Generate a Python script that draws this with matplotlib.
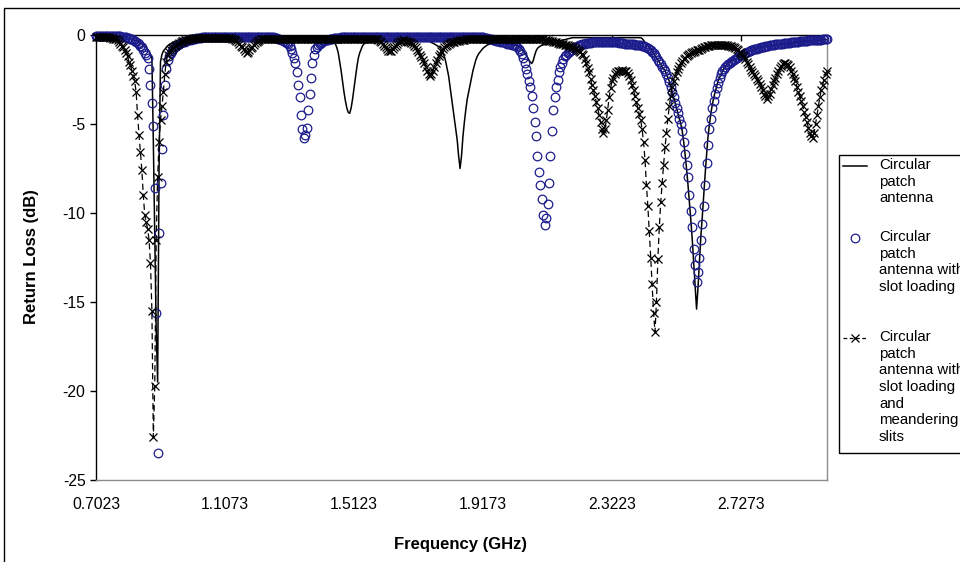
import numpy as np
import matplotlib.pyplot as plt
from matplotlib.lines import Line2D
from matplotlib.patches import Rectangle

plt.rcParams['font.family'] = ['Liberation Sans', 'DejaVu Sans']
plt.rcParams['axes.unicode_minus'] = False

# frequency sweep (GHz)
f_start = 0.7023
f_step = 0.0045

tick_freqs = [0.7023, 1.1073, 1.5123, 1.9173, 2.3223, 2.7273]
tick_labels = ['0.7023', '1.1073', '1.5123', '1.9173', '2.3223', '2.7273']
db_ticks = [0, -5, -10, -15, -20, -25]

names = ['Circular\npatch\nantenna',
         'Circular\npatch\nantenna with\nslot loading',
         'Circular\npatch\nantenna with\nslot loading\nand\nmeandering\nslits']

# return loss (dB), one value per sweep point
rl_patch = [
    -0.1, -0.1, -0.1, -0.1, -0.1, -0.1, -0.1, -0.1, -0.1, -0.1,
    -0.1, -0.1, -0.1, -0.1, -0.1, -0.1, -0.1, -0.1, -0.1, -0.1,
    -0.15, -0.15, -0.2, -0.2, -0.2, -0.25, -0.25, -0.3, -0.3, -0.35,
    -0.4, -0.45, -0.5, -0.55, -0.6, -0.7, -0.8, -0.9, -1.1, -1.3,
    -6.0, -11.4, -16.6, -19.5, -7.5, -1.5, -1.1, -0.9, -0.8, -0.7,
    -0.6, -0.55, -0.5, -0.45, -0.4, -0.38, -0.35, -0.33, -0.3, -0.28,
    -0.26, -0.25, -0.24, -0.23, -0.22, -0.2, -0.2, -0.18, -0.17, -0.16,
    -0.15, -0.15, -0.15, -0.15, -0.15, -0.15, -0.15, -0.15, -0.15, -0.15,
    -0.15, -0.15, -0.15, -0.15, -0.15, -0.15, -0.15, -0.15, -0.15, -0.15,
    -0.15, -0.15, -0.15, -0.15, -0.15, -0.15, -0.15, -0.15, -0.15, -0.15,
    -0.12, -0.12, -0.12, -0.12, -0.12, -0.12, -0.12, -0.12, -0.12, -0.12,
    -0.12, -0.12, -0.12, -0.12, -0.12, -0.12, -0.12, -0.12, -0.12, -0.12,
    -0.12, -0.12, -0.12, -0.12, -0.12, -0.12, -0.12, -0.12, -0.12, -0.12,
    -0.12, -0.12, -0.12, -0.12, -0.12, -0.12, -0.12, -0.12, -0.12, -0.12,
    -0.12, -0.12, -0.12, -0.12, -0.12, -0.12, -0.12, -0.12, -0.12, -0.12,
    -0.12, -0.12, -0.12, -0.12, -0.12, -0.12, -0.12, -0.12, -0.12, -0.12,
    -0.15, -0.2, -0.25, -0.3, -0.35, -0.4, -0.45, -0.5, -0.7, -1.0,
    -1.5, -2.0, -2.6, -3.2, -3.7, -4.1, -4.35, -4.4, -4.1, -3.6,
    -3.0, -2.4, -1.8, -1.3, -1.0, -0.8, -0.6, -0.5, -0.45, -0.4,
    -0.38, -0.35, -0.3, -0.3, -0.3, -0.3, -0.28, -0.28, -0.26, -0.26,
    -0.25, -0.25, -0.25, -0.25, -0.25, -0.25, -0.25, -0.25, -0.25, -0.25,
    -0.25, -0.25, -0.25, -0.25, -0.25, -0.25, -0.25, -0.25, -0.25, -0.25,
    -0.25, -0.25, -0.25, -0.25, -0.25, -0.25, -0.25, -0.25, -0.25, -0.25,
    -0.3, -0.32, -0.35, -0.38, -0.42, -0.46, -0.5, -0.55, -0.6, -0.65,
    -0.7, -0.85, -1.0, -1.2, -1.5, -1.9, -2.3, -2.9, -3.5, -4.1,
    -4.7, -5.3, -5.9, -6.8, -7.5, -6.8, -5.7, -4.9, -4.2, -3.6,
    -3.2, -2.8, -2.4, -2.0, -1.7, -1.4, -1.2, -1.05, -0.95, -0.85,
    -0.75, -0.68, -0.62, -0.56, -0.53, -0.5, -0.48, -0.46, -0.45, -0.44,
    -0.42, -0.41, -0.4, -0.4, -0.4, -0.42, -0.43, -0.45, -0.46, -0.48,
    -0.5, -0.52, -0.55, -0.58, -0.6, -0.65, -0.7, -0.8, -0.9, -1.0,
    -1.1, -1.25, -1.4, -1.52, -1.6, -1.45, -1.15, -0.9, -0.75, -0.68,
    -0.62, -0.58, -0.56, -0.54, -0.52, -0.5, -0.48, -0.46, -0.44, -0.42,
    -0.4, -0.38, -0.36, -0.34, -0.32, -0.3, -0.28, -0.26, -0.24, -0.22,
    -0.2, -0.18, -0.16, -0.15, -0.15, -0.15, -0.15, -0.15, -0.15, -0.15,
    -0.15, -0.15, -0.15, -0.15, -0.15, -0.15, -0.15, -0.15, -0.15, -0.15,
    -0.15, -0.15, -0.15, -0.15, -0.15, -0.15, -0.15, -0.15, -0.15, -0.15,
    -0.15, -0.15, -0.15, -0.15, -0.15, -0.15, -0.15, -0.15, -0.15, -0.15,
    -0.15, -0.15, -0.15, -0.15, -0.15, -0.15, -0.15, -0.15, -0.15, -0.15,
    -0.15, -0.2, -0.3, -0.4, -0.5, -0.6, -0.7, -0.8, -0.9, -1.0,
    -1.15, -1.3, -1.4, -1.5, -1.65, -1.8, -1.9, -2.0, -2.2, -2.4,
    -2.6, -2.9, -3.2, -3.5, -3.8, -4.1, -4.4, -4.7, -5.0, -5.4,
    -6.0, -6.7, -7.5, -8.4, -9.4, -10.4, -11.5, -12.8, -14.2, -15.4,
    -14.2, -12.8, -11.3, -10.2, -9.0, -7.8, -6.7, -5.7, -5.0, -4.4,
    -3.9, -3.5, -3.2, -2.9, -2.6, -2.4, -2.2, -2.05, -1.9, -1.8,
    -1.7, -1.6, -1.55, -1.5, -1.45, -1.4, -1.35, -1.3, -1.25, -1.2,
    -1.15, -1.1, -1.05, -1.0, -0.95, -0.9, -0.9, -0.85, -0.8, -0.8,
    -0.75, -0.74, -0.72, -0.7, -0.68, -0.66, -0.64, -0.62, -0.6, -0.59,
    -0.58, -0.57, -0.56, -0.55, -0.54, -0.53, -0.52, -0.51, -0.5, -0.5,
    -0.49, -0.48, -0.47, -0.46, -0.45, -0.44, -0.43, -0.42, -0.41, -0.4,
    -0.39, -0.38, -0.37, -0.36, -0.35, -0.34, -0.33, -0.32, -0.31, -0.3,
    -0.3, -0.29, -0.29, -0.28, -0.28, -0.28, -0.27, -0.27, -0.27, -0.26,
    -0.26,
]

rl_slot = [
    -0.05, -0.05, -0.05, -0.05, -0.05, -0.05, -0.05, -0.05, -0.05, -0.05,
    -0.05, -0.05, -0.05, -0.05, -0.05, -0.06, -0.07, -0.08, -0.09, -0.1,
    -0.1, -0.12, -0.15, -0.18, -0.2, -0.25, -0.3, -0.35, -0.4, -0.45,
    -0.5, -0.6, -0.7, -0.85, -1.0, -1.15, -1.3, -1.9, -2.8, -3.8,
    -5.1, -8.6, -15.6, -23.5, -11.1, -8.3, -6.4, -4.5, -2.8, -1.9,
    -1.4, -1.2, -1.0, -0.9, -0.8, -0.7, -0.6, -0.55, -0.5, -0.45,
    -0.42, -0.4, -0.37, -0.33, -0.3, -0.28, -0.26, -0.24, -0.22, -0.2,
    -0.18, -0.17, -0.16, -0.15, -0.14, -0.13, -0.12, -0.11, -0.1, -0.1,
    -0.1, -0.1, -0.1, -0.1, -0.1, -0.1, -0.1, -0.1, -0.1, -0.1,
    -0.1, -0.1, -0.1, -0.1, -0.1, -0.1, -0.1, -0.1, -0.1, -0.1,
    -0.1, -0.1, -0.1, -0.1, -0.1, -0.1, -0.1, -0.1, -0.1, -0.1,
    -0.1, -0.1, -0.1, -0.1, -0.1, -0.1, -0.1, -0.1, -0.1, -0.1,
    -0.1, -0.1, -0.1, -0.1, -0.12, -0.15, -0.18, -0.2, -0.25, -0.28,
    -0.3, -0.35, -0.4, -0.45, -0.5, -0.6, -0.8, -1.0, -1.3, -1.6,
    -2.1, -2.8, -3.5, -4.5, -5.3, -5.8, -5.6, -5.2, -4.2, -3.3,
    -2.4, -1.6, -1.1, -0.8, -0.65, -0.55, -0.5, -0.45, -0.4, -0.35,
    -0.3, -0.28, -0.26, -0.24, -0.22, -0.2, -0.19, -0.18, -0.17, -0.16,
    -0.15, -0.14, -0.13, -0.12, -0.12, -0.12, -0.12, -0.12, -0.12, -0.12,
    -0.12, -0.12, -0.12, -0.12, -0.12, -0.12, -0.12, -0.12, -0.12, -0.12,
    -0.12, -0.12, -0.12, -0.12, -0.12, -0.12, -0.12, -0.12, -0.12, -0.12,
    -0.12, -0.12, -0.12, -0.12, -0.12, -0.12, -0.12, -0.12, -0.12, -0.12,
    -0.12, -0.12, -0.12, -0.12, -0.12, -0.12, -0.12, -0.12, -0.12, -0.12,
    -0.12, -0.12, -0.12, -0.12, -0.12, -0.12, -0.12, -0.12, -0.12, -0.12,
    -0.12, -0.12, -0.12, -0.12, -0.12, -0.12, -0.12, -0.12, -0.12, -0.12,
    -0.12, -0.12, -0.12, -0.12, -0.12, -0.12, -0.12, -0.12, -0.12, -0.12,
    -0.12, -0.12, -0.12, -0.12, -0.12, -0.12, -0.12, -0.12, -0.12, -0.12,
    -0.12, -0.12, -0.12, -0.12, -0.12, -0.12, -0.12, -0.12, -0.12, -0.12,
    -0.13, -0.15, -0.17, -0.19, -0.21, -0.23, -0.25, -0.27, -0.29, -0.31,
    -0.33, -0.35, -0.37, -0.39, -0.4, -0.42, -0.45, -0.48, -0.5, -0.52,
    -0.54, -0.56, -0.58, -0.6, -0.7, -0.8, -0.92, -1.05, -1.3, -1.6,
    -1.9, -2.2, -2.6, -2.9, -3.4, -4.1, -4.9, -5.7, -6.8, -7.7,
    -8.4, -9.2, -10.1, -10.7, -10.3, -9.5, -8.3, -6.8, -5.4, -4.2,
    -3.5, -2.9, -2.5, -2.1, -1.8, -1.55, -1.35, -1.2, -1.1, -1.0,
    -0.95, -0.88, -0.82, -0.75, -0.7, -0.65, -0.6, -0.57, -0.54, -0.52,
    -0.5, -0.48, -0.47, -0.46, -0.45, -0.44, -0.4, -0.38, -0.38, -0.38,
    -0.38, -0.38, -0.38, -0.38, -0.38, -0.38, -0.38, -0.38, -0.38, -0.38,
    -0.38, -0.4, -0.4, -0.42, -0.42, -0.44, -0.44, -0.46, -0.46, -0.48,
    -0.48, -0.5, -0.5, -0.5, -0.52, -0.53, -0.54, -0.55, -0.56, -0.57,
    -0.58, -0.6, -0.63, -0.65, -0.7, -0.75, -0.8, -0.87, -0.93, -1.0,
    -1.1, -1.25, -1.38, -1.5, -1.65, -1.8, -1.9, -2.0, -2.2, -2.4,
    -2.65, -2.9, -3.2, -3.5, -3.8, -4.1, -4.4, -4.7, -5.0, -5.4,
    -6.0, -6.7, -7.3, -8.0, -9.0, -9.9, -10.8, -12.0, -12.9, -13.9,
    -13.3, -12.5, -11.5, -10.6, -9.6, -8.4, -7.2, -6.2, -5.3, -4.7,
    -4.1, -3.7, -3.3, -3.0, -2.7, -2.4, -2.2, -2.05, -1.9, -1.8,
    -1.7, -1.65, -1.6, -1.5, -1.45, -1.4, -1.35, -1.3, -1.25, -1.2,
    -1.15, -1.1, -1.05, -1.0, -0.97, -0.93, -0.9, -0.87, -0.83, -0.8,
    -0.78, -0.76, -0.74, -0.72, -0.7, -0.68, -0.65, -0.63, -0.61, -0.6,
    -0.58, -0.56, -0.55, -0.54, -0.53, -0.52, -0.51, -0.5, -0.49, -0.48,
    -0.47, -0.46, -0.45, -0.44, -0.43, -0.42, -0.41, -0.4, -0.39, -0.38,
    -0.37, -0.36, -0.35, -0.34, -0.33, -0.32, -0.31, -0.3, -0.3, -0.29,
    -0.29, -0.28, -0.28, -0.27, -0.27, -0.26, -0.26, -0.25, -0.25, -0.25,
    -0.25,
]

rl_meander = [
    -0.1, -0.1, -0.1, -0.1, -0.1, -0.1, -0.1, -0.1, -0.1, -0.1,
    -0.15, -0.17, -0.2, -0.22, -0.25, -0.3, -0.4, -0.5, -0.6, -0.7,
    -0.85, -1.0, -1.2, -1.5, -1.7, -2.0, -2.3, -2.6, -3.2, -4.5,
    -5.6, -6.6, -7.6, -9.0, -10.1, -10.5, -10.9, -11.5, -12.8, -15.5,
    -22.6, -19.7, -11.5, -8.0, -6.0, -4.8, -4.0, -3.2, -2.2, -1.5,
    -1.1, -0.95, -0.85, -0.75, -0.68, -0.6, -0.55, -0.5, -0.45, -0.4,
    -0.36, -0.33, -0.3, -0.28, -0.26, -0.24, -0.22, -0.2, -0.19, -0.18,
    -0.17, -0.17, -0.16, -0.16, -0.15, -0.15, -0.15, -0.15, -0.15, -0.15,
    -0.15, -0.15, -0.15, -0.15, -0.15, -0.15, -0.15, -0.15, -0.15, -0.15,
    -0.15, -0.15, -0.15, -0.16, -0.18, -0.2, -0.25, -0.3, -0.35, -0.42,
    -0.5, -0.6, -0.7, -0.8, -0.9, -1.0, -0.95, -0.85, -0.75, -0.65,
    -0.55, -0.45, -0.38, -0.32, -0.27, -0.23, -0.2, -0.2, -0.2, -0.2,
    -0.2, -0.2, -0.2, -0.2, -0.2, -0.2, -0.2, -0.2, -0.2, -0.2,
    -0.2, -0.2, -0.2, -0.2, -0.2, -0.2, -0.2, -0.2, -0.2, -0.2,
    -0.2, -0.2, -0.2, -0.2, -0.2, -0.2, -0.2, -0.2, -0.2, -0.2,
    -0.2, -0.2, -0.2, -0.2, -0.2, -0.2, -0.2, -0.2, -0.2, -0.2,
    -0.2, -0.2, -0.2, -0.2, -0.2, -0.2, -0.2, -0.2, -0.2, -0.2,
    -0.2, -0.2, -0.2, -0.2, -0.2, -0.2, -0.2, -0.2, -0.2, -0.2,
    -0.2, -0.2, -0.2, -0.2, -0.2, -0.2, -0.2, -0.2, -0.2, -0.2,
    -0.2, -0.2, -0.2, -0.2, -0.2, -0.22, -0.25, -0.3, -0.35, -0.42,
    -0.5, -0.6, -0.7, -0.8, -0.88, -0.92, -0.88, -0.8, -0.7, -0.6,
    -0.5, -0.42, -0.36, -0.32, -0.3, -0.3, -0.32, -0.35, -0.38, -0.42,
    -0.46, -0.5, -0.6, -0.7, -0.82, -0.95, -1.1, -1.25, -1.4, -1.6,
    -1.8, -2.0, -2.2, -2.3, -2.2, -2.0, -1.8, -1.6, -1.4, -1.2,
    -1.05, -0.9, -0.8, -0.7, -0.62, -0.55, -0.5, -0.45, -0.42, -0.4,
    -0.38, -0.36, -0.34, -0.32, -0.3, -0.28, -0.27, -0.26, -0.25, -0.24,
    -0.23, -0.22, -0.21, -0.2, -0.2, -0.2, -0.2, -0.2, -0.2, -0.2,
    -0.2, -0.2, -0.2, -0.2, -0.2, -0.2, -0.2, -0.2, -0.2, -0.2,
    -0.2, -0.2, -0.2, -0.2, -0.2, -0.2, -0.2, -0.2, -0.2, -0.2,
    -0.2, -0.2, -0.2, -0.2, -0.2, -0.2, -0.2, -0.2, -0.2, -0.2,
    -0.2, -0.2, -0.2, -0.2, -0.2, -0.2, -0.2, -0.2, -0.2, -0.2,
    -0.2, -0.22, -0.24, -0.26, -0.28, -0.3, -0.32, -0.34, -0.36, -0.38,
    -0.4, -0.42, -0.44, -0.46, -0.48, -0.5, -0.52, -0.54, -0.56, -0.58,
    -0.6, -0.62, -0.66, -0.7, -0.75, -0.8, -0.85, -0.9, -0.95, -1.05,
    -1.15, -1.35, -1.6, -1.85, -2.1, -2.45, -2.8, -3.1, -3.4, -3.75,
    -4.1, -4.5, -4.9, -5.3, -5.5, -5.3, -4.8, -4.2, -3.5, -3.0,
    -2.6, -2.4, -2.2, -2.1, -2.05, -2.0, -2.0, -1.98, -2.0, -2.02,
    -2.05, -2.15, -2.3, -2.55, -2.8, -3.1, -3.4, -3.75, -4.1, -4.45,
    -4.8, -5.3, -6.0, -7.0, -8.4, -9.6, -11.0, -12.5, -14.0, -15.6,
    -16.7, -15.0, -12.6, -10.8, -9.4, -8.3, -7.3, -6.3, -5.5, -4.7,
    -4.0, -3.4, -2.9, -2.6, -2.3, -2.1, -1.9, -1.75, -1.6, -1.45,
    -1.35, -1.28, -1.2, -1.13, -1.06, -1.0, -0.97, -0.93, -0.9, -0.87,
    -0.84, -0.82, -0.78, -0.74, -0.7, -0.66, -0.63, -0.6, -0.59, -0.58,
    -0.57, -0.56, -0.56, -0.55, -0.55, -0.55, -0.55, -0.56, -0.57, -0.57,
    -0.58, -0.6, -0.62, -0.64, -0.65, -0.7, -0.75, -0.8, -0.87, -0.93,
    -1.0, -1.1, -1.2, -1.35, -1.5, -1.65, -1.8, -1.95, -2.1, -2.2,
    -2.3, -2.45, -2.6, -2.75, -2.9, -3.1, -3.3, -3.45, -3.6, -3.45,
    -3.3, -3.05, -2.8, -2.6, -2.4, -2.2, -2.0, -1.85, -1.75, -1.65,
    -1.6, -1.6, -1.65, -1.7, -1.8, -2.0, -2.2, -2.4, -2.6, -2.9,
    -3.2, -3.45, -3.7, -4.0, -4.3, -4.6, -4.9, -5.2, -5.5, -5.7,
    -5.8, -5.5, -5.0, -4.5, -4.0, -3.5, -3.1, -2.8, -2.5, -2.2,
    -2.0,
]


def sweep(vals):
    return f_start + f_step * np.arange(len(vals))


W, H = 960, 562


def fx(px):
    return px / W


def fy(py):
    return 1 - py / H


fig = plt.figure(figsize=(W / 100, H / 100), dpi=100)
ax = fig.add_axes([fx(96), fy(480), fx(827) - fx(96), fy(35) - fy(480)])

navy = '#1c1c8c'
ax.plot(sweep(rl_patch), rl_patch, color='black', lw=1.1, zorder=2)
ax.plot(sweep(rl_slot), rl_slot, ls='none', marker='o', ms=6.2, mfc='none',
        mec=navy, mew=0.9, zorder=3, clip_on=False)
ax.plot(sweep(rl_meander), rl_meander, color='black', ls=(0, (5, 3)), lw=0.9,
        marker='x', ms=6, mec='black', mew=0.9, zorder=4, clip_on=False)

ax.set_xlim(f_start, f_start + f_step * (len(rl_patch) - 1))
ax.set_ylim(-25, 0)
ax.set_xticks(tick_freqs)
ax.set_xticklabels(tick_labels)
ax.set_yticks(db_ticks)
ax.set_yticklabels([str(v) for v in db_ticks])
ax.tick_params(axis='x', top=True, bottom=False, labeltop=False, labelbottom=True,
               direction='in', length=4, width=1, pad=12, labelsize=11.3)
ax.tick_params(axis='y', direction='out', length=4.5, width=1, pad=3, labelsize=11.3)

for s in ['top', 'left']:
    ax.spines[s].set_color('black')
    ax.spines[s].set_linewidth(1)
for s in ['bottom', 'right']:
    ax.spines[s].set_color('#8c8c8c')
    ax.spines[s].set_linewidth(1)

fig.text(fx(461), fy(545), 'Frequency (GHz)', ha='center', va='center',
         fontsize=12, fontweight='bold')
fig.text(fx(32), fy(257), 'Return Loss (dB)', ha='center', va='center',
         fontsize=12, fontweight='bold', rotation=90)

# outer chart border
fig.add_artist(Rectangle((fx(4), fy(575)), fx(975) - fx(4), fy(8) - fy(575),
                         transform=fig.transFigure, fill=False, ec='black', lw=1))

# legend
fig.add_artist(Rectangle((fx(839), fy(453)), fx(990) - fx(839), fy(155) - fy(453),
                         transform=fig.transFigure, fill=False, ec='black', lw=1))
rows = [166, 238, 338]
fig.add_artist(Line2D([fx(843), fx(867)], [fy(rows[0])] * 2, color='black', lw=1.1,
                      transform=fig.transFigure))
fig.add_artist(Line2D([fx(855)], [fy(rows[1])], marker='o', ms=6.2, mfc='none',
                      mec=navy, mew=0.9, transform=fig.transFigure))
fig.add_artist(Line2D([fx(843), fx(867)], [fy(rows[2])] * 2, color='black', lw=0.9,
                      ls=(0, (3, 2)), transform=fig.transFigure))
fig.add_artist(Line2D([fx(855)], [fy(rows[2])], marker='x', ms=6, mec='black',
                      mew=0.9, transform=fig.transFigure))
for r, name in zip(rows, names):
    fig.text(fx(879), fy(r - 8), name, ha='left', va='top', fontsize=10.8,
             linespacing=1.24)

fig.savefig('out.png', dpi=100)
